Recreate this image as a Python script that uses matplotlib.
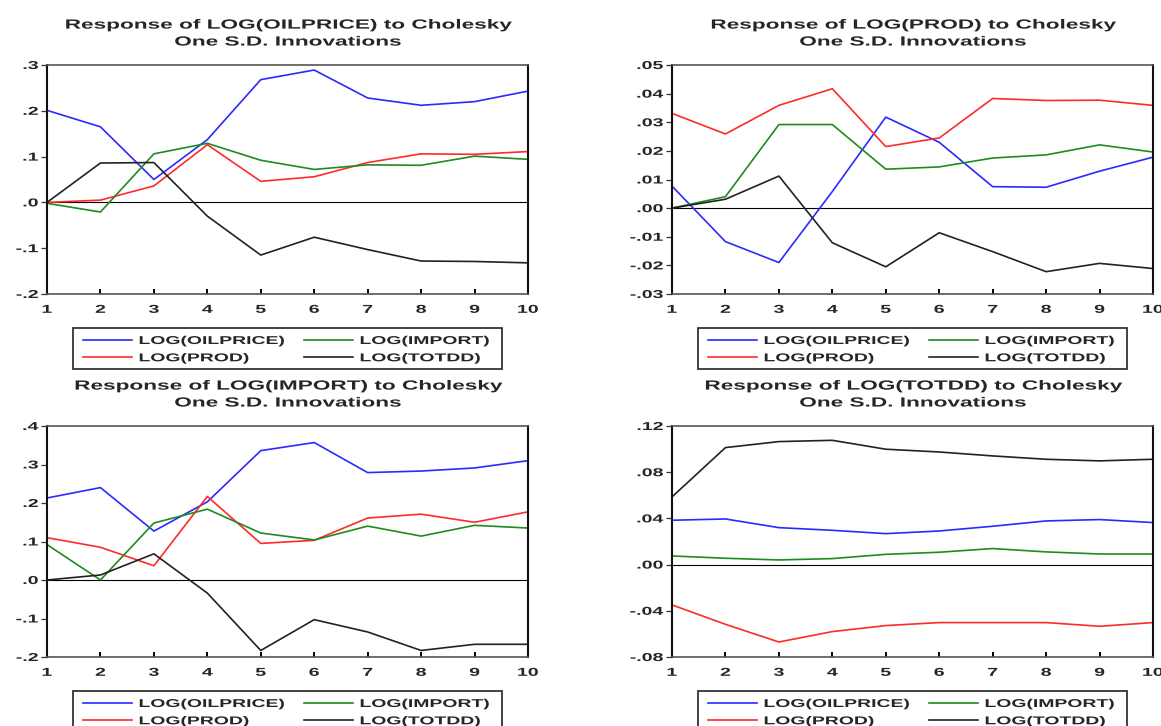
import matplotlib
matplotlib.use("Agg")
import matplotlib.pyplot as plt
from matplotlib.patheffects import AbstractPathEffect
from matplotlib.transforms import Affine2D
from matplotlib.patches import Rectangle
from matplotlib.lines import Line2D
from matplotlib.font_manager import FontProperties

# ---------------- data ----------------
periods = [1, 2, 3, 4, 5, 6, 7, 8, 9, 10]
shock_labels = ["LOG(OILPRICE)", "LOG(PROD)", "LOG(IMPORT)", "LOG(TOTDD)"]
titles = [
    "Response of LOG(OILPRICE) to Cholesky\nOne S.D. Innovations",
    "Response of LOG(PROD) to Cholesky\nOne S.D. Innovations",
    "Response of LOG(IMPORT) to Cholesky\nOne S.D. Innovations",
    "Response of LOG(TOTDD) to Cholesky\nOne S.D. Innovations",
]

# Response of LOG(OILPRICE)
oil_to_oil = [0.201, 0.165, 0.050, 0.137, 0.268, 0.289, 0.228, 0.212, 0.220, 0.243]
oil_to_prod = [0.000, 0.005, 0.036, 0.126, 0.046, 0.056, 0.087, 0.106, 0.105, 0.111]
oil_to_import = [-0.002, -0.021, 0.106, 0.129, 0.092, 0.072, 0.082, 0.081, 0.101, 0.094]
oil_to_totdd = [0.000, 0.086, 0.087, -0.030, -0.115, -0.076, -0.103, -0.128, -0.129, -0.132]

# Response of LOG(PROD)
prod_to_oil = [0.0077, -0.0117, -0.0190, 0.0058, 0.0318, 0.0230, 0.0075, 0.0073, 0.0129, 0.0178]
prod_to_prod = [0.0331, 0.0259, 0.0359, 0.0417, 0.0215, 0.0245, 0.0383, 0.0376, 0.0377, 0.0359]
prod_to_import = [0.0000, 0.0040, 0.0292, 0.0292, 0.0136, 0.0144, 0.0175, 0.0186, 0.0221, 0.0196]
prod_to_totdd = [0.0000, 0.0031, 0.0112, -0.0121, -0.0205, -0.0086, -0.0152, -0.0222, -0.0193, -0.0211]

# Response of LOG(IMPORT)
imp_to_oil = [0.213, 0.240, 0.127, 0.203, 0.336, 0.357, 0.279, 0.283, 0.291, 0.310]
imp_to_prod = [0.110, 0.085, 0.037, 0.217, 0.095, 0.103, 0.161, 0.171, 0.150, 0.177]
imp_to_import = [0.092, 0.000, 0.148, 0.184, 0.122, 0.104, 0.140, 0.114, 0.142, 0.135]
imp_to_totdd = [0.000, 0.013, 0.068, -0.034, -0.183, -0.103, -0.135, -0.183, -0.167, -0.167]

# Response of LOG(TOTDD)
tot_to_oil = [0.0384, 0.0395, 0.0320, 0.0297, 0.0268, 0.0291, 0.0332, 0.0378, 0.0390, 0.0364]
tot_to_prod = [-0.0349, -0.0517, -0.0670, -0.0580, -0.0528, -0.0502, -0.0502, -0.0502, -0.0534, -0.0502]
tot_to_import = [0.0075, 0.0055, 0.0040, 0.0052, 0.0089, 0.0107, 0.0139, 0.0110, 0.0092, 0.0092]
tot_to_totdd = [0.0586, 0.1013, 0.1065, 0.1076, 0.0999, 0.0975, 0.0941, 0.0912, 0.0898, 0.0912]

yticks_oil = [-0.2, -0.1, 0.0, 0.1, 0.2, 0.3]
ylabels_oil = ["-.2", "-.1", ".0", ".1", ".2", ".3"]
yticks_prod = [-0.03, -0.02, -0.01, 0.0, 0.01, 0.02, 0.03, 0.04, 0.05]
ylabels_prod = ["-.03", "-.02", "-.01", ".00", ".01", ".02", ".03", ".04", ".05"]
yticks_imp = [-0.2, -0.1, 0.0, 0.1, 0.2, 0.3, 0.4]
ylabels_imp = ["-.2", "-.1", ".0", ".1", ".2", ".3", ".4"]
yticks_tot = [-0.08, -0.04, 0.0, 0.04, 0.08, 0.12]
ylabels_tot = ["-.08", "-.04", ".00", ".04", ".08", ".12"]

panels = [
    (titles[0], [oil_to_oil, oil_to_prod, oil_to_import, oil_to_totdd], yticks_oil, ylabels_oil),
    (titles[1], [prod_to_oil, prod_to_prod, prod_to_import, prod_to_totdd], yticks_prod, ylabels_prod),
    (titles[2], [imp_to_oil, imp_to_prod, imp_to_import, imp_to_totdd], yticks_imp, ylabels_imp),
    (titles[3], [tot_to_oil, tot_to_prod, tot_to_import, tot_to_totdd], yticks_tot, ylabels_tot),
]

# ---------------- style ----------------
colors = ["#2a2aff", "#ff2a2a", "#1f8a1f", "#222222"]
SX = 1.7          # horizontal stretch of all text (reference is stretched)
FONT = "Liberation Sans"
TXT = "#262626"
W, H, DPI = 11.61, 7.26, 100
LW = 1.2


class HStretch(AbstractPathEffect):
    def __init__(self, sx, anchor="center"):
        super().__init__()
        self.sx = sx
        self.anchor = anchor

    def draw_path(self, renderer, gc, tpath, affine, rgbFace=None):
        try:
            ext = tpath.get_extents(affine)
            if self.anchor == "left":
                a = ext.x0
            elif self.anchor == "right":
                a = ext.x1
            else:
                a = 0.5 * (ext.x0 + ext.x1)
            if not (a == a) or abs(a) == float("inf"):
                raise ValueError
            t = affine + Affine2D().translate(-a, 0).scale(self.sx, 1).translate(a, 0)
        except Exception:
            t = affine
        renderer.draw_path(gc, tpath, t, rgbFace)


def px2pt(px):
    return px * 72.0 / DPI


title_pt = px2pt(13.3)
tick_pt = px2pt(11.5)
leg_px = 11.4
leg_pt = px2pt(leg_px)

fig = plt.figure(figsize=(W, H), dpi=DPI)
positions = [
    [47 / 1161, 1 - 294 / 726, 481 / 1161, 229 / 726],
    [672 / 1161, 1 - 294 / 726, 481 / 1161, 229 / 726],
    [47 / 1161, 1 - 657 / 726, 481 / 1161, 231 / 726],
    [672 / 1161, 1 - 657 / 726, 481 / 1161, 231 / 726],
]

renderer = fig.canvas.get_renderer()
leg_prop = FontProperties(family=FONT, weight="bold", size=leg_pt)
w1 = max(renderer.get_text_width_height_descent(s, leg_prop, ismath=False)[0]
         for s in (shock_labels[0], shock_labels[1]))

for pos, (title, series, yt, yl) in zip(positions, panels):
    ax = fig.add_axes(pos)
    w_px = pos[2] * W * DPI
    h_px = pos[3] * H * DPI
    ax.axhline(0, color="black", lw=0.8, zorder=1)
    for vals, c in zip(series, colors):
        ax.plot(periods, vals, color=c, lw=LW, zorder=2)
    ax.set_xlim(periods[0], periods[-1])
    ax.set_ylim(yt[0], yt[-1])
    ax.set_xticks(periods, [str(p) for p in periods],
                  path_effects=[HStretch(SX, "center")],
                  fontfamily=FONT, fontweight="bold", fontsize=tick_pt, color=TXT)
    ax.set_yticks(yt, yl, path_effects=[HStretch(SX, "right")],
                  fontfamily=FONT, fontweight="bold", fontsize=tick_pt, color=TXT)
    ax.tick_params(axis="x", direction="in", length=3.5, width=1.4, pad=7.8, color="black")
    ax.tick_params(axis="y", direction="out", length=4.2, width=0.9, pad=2.0, color="#333333")
    for side in ("left", "right"):
        ax.spines[side].set_linewidth(1.5)
        ax.spines[side].set_color("#111111")
    for side in ("top", "bottom"):
        ax.spines[side].set_linewidth(1.2)
        ax.spines[side].set_color("#555555")
    t = ax.set_title(title, fontfamily=FONT, fontweight="bold", fontsize=title_pt,
                     color=TXT, pad=14.0, linespacing=1.55)
    t.set_path_effects([HStretch(SX, "center")])

    # legend
    handles = [Line2D([], [], color=c, lw=LW) for c in colors]
    cs = ((305 - 140) - w1) / leg_px
    leg = ax.legend(handles, shock_labels, ncol=2, loc="upper left",
                    bbox_to_anchor=(36 / w_px, -42 / h_px), bbox_transform=ax.transAxes,
                    frameon=False, prop=leg_prop, handlelength=49 / leg_px,
                    handletextpad=7 / leg_px, columnspacing=cs, labelspacing=0.64,
                    borderpad=0, borderaxespad=0)
    for txt in leg.get_texts():
        txt.set_path_effects([HStretch(SX, "left")])
        txt.set_color(TXT)
    frame = Rectangle((26 / w_px, -75 / h_px), 429 / w_px, 41 / h_px,
                      transform=ax.transAxes, fill=False, lw=1.2, ec="#222222",
                      clip_on=False)
    ax.add_patch(frame)

fig.savefig("out.png", dpi=DPI)
